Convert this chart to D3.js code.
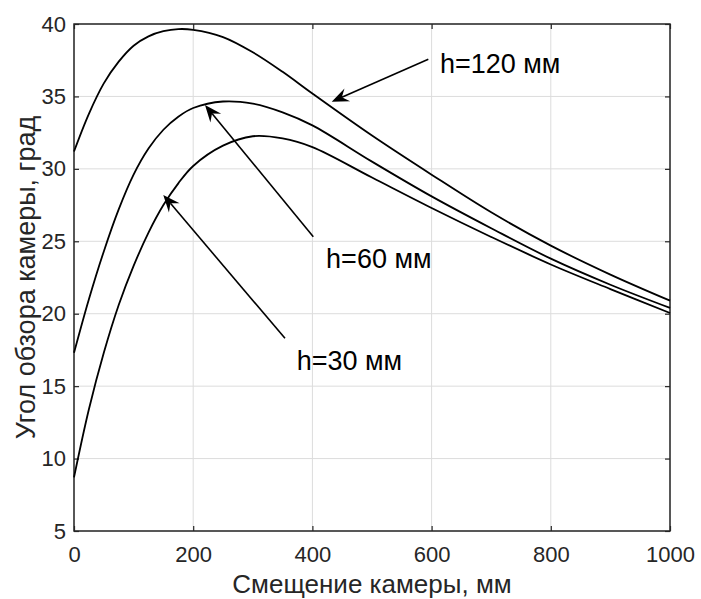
<!DOCTYPE html>
<html lang="ru">
<head>
  <meta charset="UTF-8">
  <title>Угол обзора камеры</title>
  <script src="https://cdn.jsdelivr.net/npm/d3@7"></script>
  <style>
    body { margin: 0; background: #fff; }
    text { font-family: "Liberation Sans", Arial, sans-serif; }
  </style>
</head>
<body>
  <div id="chart"></div>
  <script>
    // смещение камеры, мм
    const offsets = [0, 25, 50, 75, 100, 125, 150, 175, 200, 250, 300, 350, 400, 500, 600, 700, 800, 900, 1000];
    // угол обзора, град
    const h120 = [31.2, 33.8, 35.9, 37.4, 38.5, 39.15, 39.5, 39.65, 39.6, 39.1, 38.05, 36.7, 35.2, 32.3, 29.6, 27.0, 24.7, 22.7, 20.9];
    const h60 = [17.3, 21.0, 24.3, 27.2, 29.6, 31.4, 32.7, 33.6, 34.2, 34.65, 34.5, 33.9, 33.0, 30.5, 28.1, 25.9, 23.8, 22.0, 20.4];
    const h30 = [8.7, 13.4, 17.3, 20.6, 23.3, 25.6, 27.5, 29.0, 30.2, 31.6, 32.25, 32.1, 31.5, 29.4, 27.3, 25.3, 23.4, 21.7, 20.05];

    const xTicks = [0, 200, 400, 600, 800, 1000];
    const yTicks = [5, 10, 15, 20, 25, 30, 35, 40];

    // подписи со стрелками (в координатах графика)
    const labels = ['h=120 мм', 'h=60 мм', 'h=30 мм'];
    const labelPos = [[614, 36.6], [423, 23.16], [373.7, 16.12]];
    const arrowFrom = [[594.5, 37.56], [401.5, 25.32], [354, 18.3]];
    const arrowTo = [[432.4, 34.64], [219.8, 34.41], [149.8, 28.2]];

    const W = 701, H = 599;
    const margin = { left: 74, top: 24, right: 31, bottom: 68 };
    const width = W - margin.left - margin.right;
    const height = H - margin.top - margin.bottom;

    const svg = d3.select('#chart').append('svg')
      .attr('width', W)
      .attr('height', H);

    const g = svg.append('g')
      .attr('transform', `translate(${margin.left},${margin.top})`);

    const x = d3.scaleLinear().domain([0, 1000]).range([0, width]);
    const y = d3.scaleLinear().domain([5, 40]).range([height, 0]);

    // сетка
    g.append('g')
      .selectAll('line')
      .data(xTicks)
      .join('line')
      .attr('x1', d => x(d)).attr('x2', d => x(d))
      .attr('y1', 0).attr('y2', height)
      .attr('stroke', '#dcdcdc').attr('stroke-width', 1);
    g.append('g')
      .selectAll('line')
      .data(yTicks)
      .join('line')
      .attr('x1', 0).attr('x2', width)
      .attr('y1', d => y(d)).attr('y2', d => y(d))
      .attr('stroke', '#dcdcdc').attr('stroke-width', 1);

    // оси
    const styleAxis = sel => {
      sel.select('.domain').remove();
      sel.selectAll('.tick line').attr('stroke', '#262626').attr('stroke-width', 1.2);
      sel.selectAll('.tick text')
        .attr('fill', '#262626')
        .attr('font-size', '22px');
    };

    g.append('g')
      .attr('transform', `translate(0,${height})`)
      .call(d3.axisBottom(x).tickValues(xTicks).tickSize(-5).tickPadding(10).tickFormat(d3.format('d')))
      .call(styleAxis)
      .selectAll('.tick text').attr('dy', '0.95em');

    g.append('g')
      .call(d3.axisLeft(y).tickValues(yTicks).tickSize(-5).tickPadding(8).tickFormat(d3.format('d')))
      .call(styleAxis);

    g.append('g')
      .call(d3.axisTop(x).tickValues(xTicks).tickSize(-5).tickFormat(''))
      .call(styleAxis);

    g.append('g')
      .attr('transform', `translate(${width},0)`)
      .call(d3.axisRight(y).tickValues(yTicks).tickSize(-5).tickFormat(''))
      .call(styleAxis);

    g.append('rect')
      .attr('width', width).attr('height', height)
      .attr('fill', 'none')
      .attr('stroke', '#262626')
      .attr('stroke-width', 1.5);

    // кривые
    const line = d3.line()
      .x((d, i) => x(offsets[i]))
      .y(d => y(d))
      .curve(d3.curveCatmullRom.alpha(0.5));

    g.append('g')
      .selectAll('path')
      .data([h120, h60, h30])
      .join('path')
      .attr('d', line)
      .attr('fill', 'none')
      .attr('stroke', '#000')
      .attr('stroke-width', 1.8);

    // стрелки
    labels.forEach((txt, i) => {
      const x0 = x(arrowFrom[i][0]), y0 = y(arrowFrom[i][1]);
      const x1 = x(arrowTo[i][0]), y1 = y(arrowTo[i][1]);
      const ang = Math.atan2(y1 - y0, x1 - x0);
      const len = 17, half = 7;
      const ux = Math.cos(ang), uy = Math.sin(ang);
      const bx = x1 - ux * len, by = y1 - uy * len;
      const nx = x1 - ux * len * 0.65, ny = y1 - uy * len * 0.65;

      g.append('line')
        .attr('x1', x0).attr('y1', y0)
        .attr('x2', nx).attr('y2', ny)
        .attr('stroke', '#000')
        .attr('stroke-width', 1.6);

      const pts = [
        [x1, y1],
        [bx - uy * half, by + ux * half],
        [nx, ny],
        [bx + uy * half, by - ux * half]
      ];
      g.append('path')
        .attr('d', 'M' + pts.map(p => p.join(',')).join('L') + 'Z')
        .attr('fill', '#000');

      g.append('text')
        .attr('x', x(labelPos[i][0]))
        .attr('y', y(labelPos[i][1]))
        .attr('font-size', '27px')
        .attr('fill', '#000')
        .text(txt);
    });

    // подписи осей
    svg.append('text')
      .attr('x', margin.left + width / 2)
      .attr('y', 593)
      .attr('text-anchor', 'middle')
      .attr('font-size', '26px')
      .attr('fill', '#262626')
      .text('Смещение камеры, мм');

    svg.append('text')
      .attr('transform', `translate(35,${margin.top + height / 2}) rotate(-90)`)
      .attr('text-anchor', 'middle')
      .attr('font-size', '27px')
      .attr('fill', '#262626')
      .text('Угол обзора камеры, град');
  </script>
</body>
</html>
